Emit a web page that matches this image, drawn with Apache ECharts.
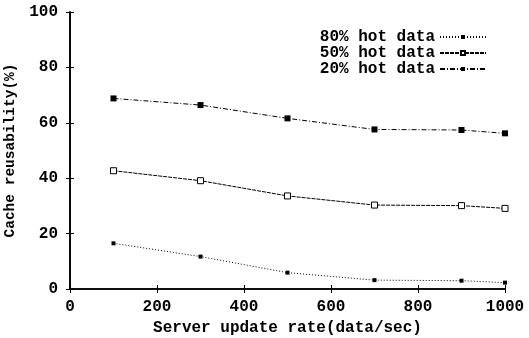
<!DOCTYPE html>
<html><head><meta charset="utf-8">
<script src="https://cdn.jsdelivr.net/npm/echarts@6/dist/echarts.min.js"></script>
<style>html,body{margin:0;padding:0;background:#fff}#c{width:529px;height:338px}</style>
</head><body><div id="c"></div>
<script>
const xValues = [100, 300, 500, 700, 900, 1000];
const hot80 = [16.5, 11.7, 5.9, 3.2, 3.0, 2.3];
const hot50 = [42.7, 39.1, 33.6, 30.3, 30.1, 29.1];
const hot20 = [68.8, 66.4, 61.6, 57.6, 57.4, 56.2];
const seriesNames = ['80% hot data', '50% hot data', '20% hot data'];

const font = 'Liberation Mono';
const fs = 16;
const pair = arr => xValues.map((x, i) => [x, arr[i]]);
const chart = echarts.init(document.getElementById('c'), null, {renderer: 'canvas'});
const axisCommon = {
  axisLine: {show: true, lineStyle: {color: '#000', width: 1.6}},
  axisTick: {show: true, inside: true, length: 4, lineStyle: {color: '#000', width: 1}},
  splitLine: {show: false}
};
const txt = {fontFamily: font, fontWeight: 'bold', fontSize: fs, color: '#000'};
chart.setOption({
  animation: false,
  backgroundColor: '#fff',
  grid: {left: 70, right: 24, top: 12, bottom: 49, containLabel: false, outerBoundsMode: 'none'},
  legend: {
    orient: 'vertical', right: 42, top: 29, align: 'right',
    itemWidth: 46, itemHeight: 5, itemGap: 0, padding: 0,
    textStyle: {...txt, lineHeight: 15},
    data: seriesNames
  },
  xAxis: [{
    type: 'value', min: 0, max: 1000, interval: 200,
    name: 'Server update rate(data/sec)', nameLocation: 'middle', nameGap: 29,
    nameTextStyle: txt,
    axisLabel: {...txt, margin: 10, formatter: v => String(v)},
    ...axisCommon
  }, {
    type: 'value', min: 0, max: 1000, interval: 200, position: 'top',
    axisLabel: {show: false}, ...axisCommon
  }],
  yAxis: [{
    type: 'value', min: 0, max: 100, interval: 20,
    name: 'Cache reusability(%)', nameLocation: 'middle', nameGap: 51,
    nameTextStyle: {...txt, fontSize: 14.5},
    axisLabel: {...txt, margin: 12},
    ...axisCommon
  }, {
    type: 'value', min: 0, max: 100, interval: 20, position: 'right',
    axisLabel: {show: false}, ...axisCommon
  }],
  series: [
    {name: seriesNames[0], type: 'line', data: pair(hot80), symbol: 'rect', symbolSize: 4,
     itemStyle: {color: '#000'}, lineStyle: {color: '#000', width: 1, type: [1, 2]}},
    {name: seriesNames[1], type: 'line', data: pair(hot50), symbol: 'rect', symbolSize: 6,
     itemStyle: {color: '#fff', borderColor: '#000', borderWidth: 1}, lineStyle: {color: '#000', width: 1, type: [4, 1]}},
    {name: seriesNames[2], type: 'line', data: pair(hot20), symbol: 'rect', symbolSize: 6,
     itemStyle: {color: '#000'}, lineStyle: {color: '#000', width: 1, type: [5, 2, 1, 2]}}
  ]
});
</script></body></html>
